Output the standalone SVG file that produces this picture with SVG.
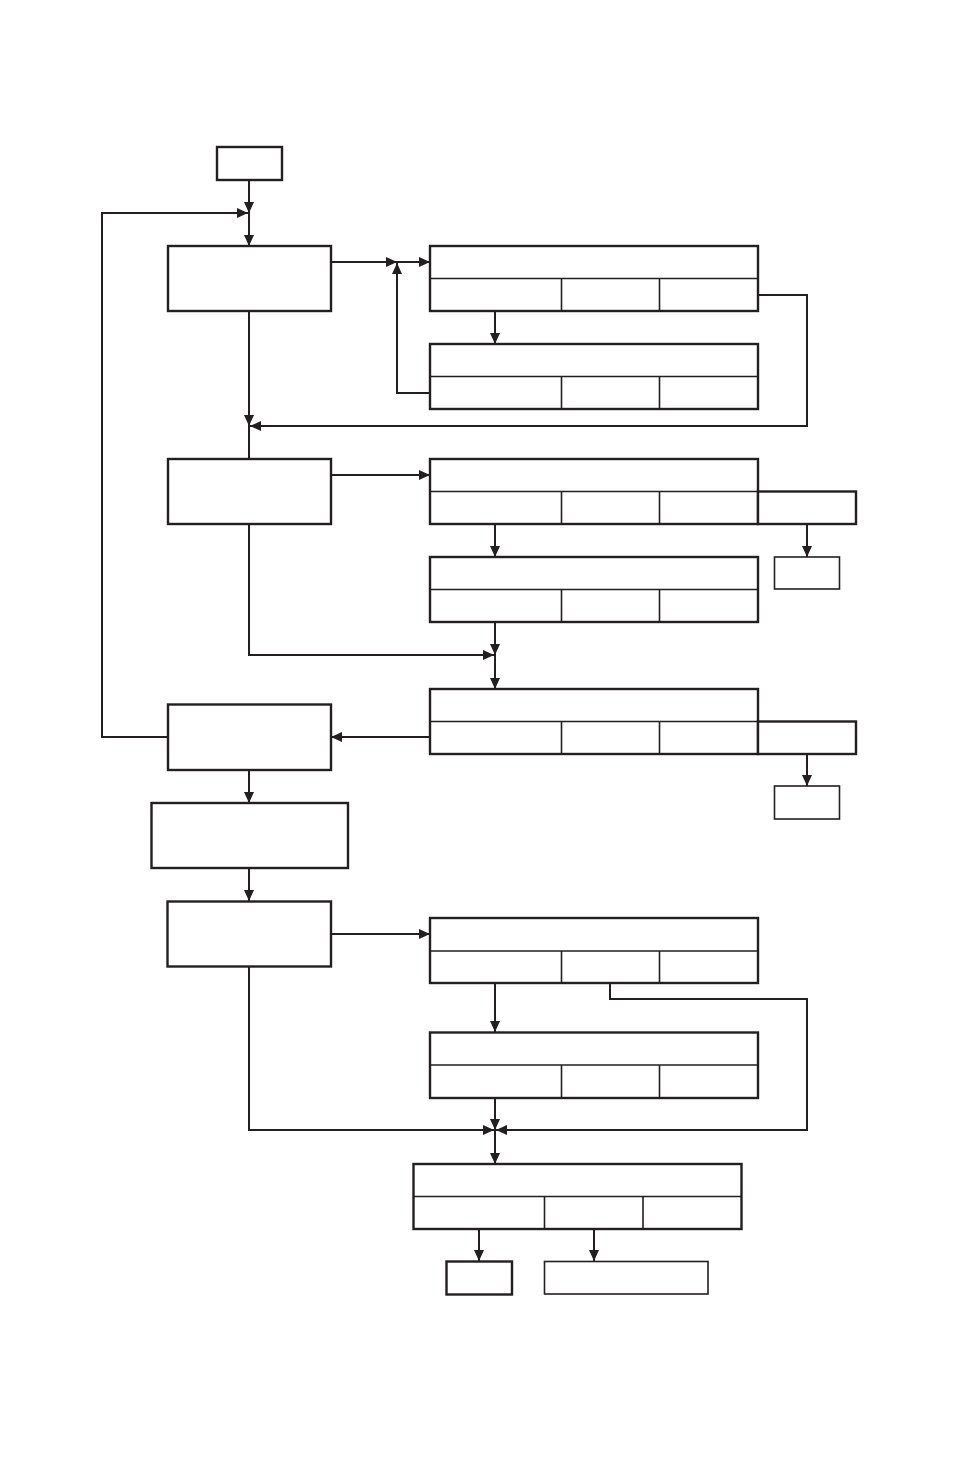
<svg xmlns="http://www.w3.org/2000/svg" width="954" height="1474" viewBox="0 0 954 1474">
<style>
.box{fill:#fff;stroke:#231f20;stroke-width:2.4}
.div{fill:none;stroke:#231f20;stroke-width:1.6}
.con{fill:none;stroke:#231f20;stroke-width:2}
.arr{marker-end:url(#ah)}
</style>
<defs>
<marker id="ah" markerUnits="userSpaceOnUse" markerWidth="12" markerHeight="11" refX="11" refY="5" orient="auto">
<path d="M0,0 L11,5 L0,10 z" fill="#231f20"/>
</marker>
</defs>
<rect width="954" height="1474" fill="#fff"/>
<g id="connectors">
<path class="con arr" d="M249,180 V213"/>
<path class="con arr" d="M249,213 V246"/>
<path class="con arr" d="M168,737 H102 V213 H248"/>
<path class="con arr" d="M331,262 H397"/>
<path class="con arr" d="M397,262 H430"/>
<path class="con arr" d="M430,393 H397 V263"/>
<path class="con arr" d="M495,311 V344"/>
<path class="con arr" d="M249,311 V426"/>
<path class="con" d="M249,426 V459"/>
<path class="con arr" d="M758,295 H807 V426 H250"/>
<path class="con arr" d="M331,475 H430"/>
<path class="con arr" d="M495,524 V557"/>
<path class="con arr" d="M807,524 V557"/>
<path class="con arr" d="M495,622 V655"/>
<path class="con arr" d="M495,655 V689"/>
<path class="con arr" d="M249,524 V655 H494"/>
<path class="con arr" d="M430,737 H331"/>
<path class="con arr" d="M807,754 V786"/>
<path class="con arr" d="M249,770 V803"/>
<path class="con arr" d="M249,868 V901"/>
<path class="con arr" d="M331,934 H430"/>
<path class="con arr" d="M495,983 V1032"/>
<path class="con arr" d="M495,1098 V1130"/>
<path class="con arr" d="M249,966 V1130 H494"/>
<path class="con arr" d="M610,983 V999 H807 V1130 H496"/>
<path class="con arr" d="M495,1130 V1164"/>
<path class="con arr" d="M479,1229 V1261"/>
<path class="con arr" d="M594,1229 V1261"/>
</g>
<g id="start"><rect class="box" x="217" y="147" width="65" height="33"/></g>
<g id="A1"><rect class="box" x="168" y="246" width="163" height="65"/></g>
<g id="T1"><rect class="box" x="430" y="246" width="328" height="65"/><path class="div" d="M430,278.5 H758 M561.5,278.5 V311 M659.5,278.5 V311"/></g>
<g id="T2"><rect class="box" x="430" y="344" width="328" height="65"/><path class="div" d="M430,376.5 H758 M561.5,376.5 V409 M659.5,376.5 V409"/></g>
<g id="A2"><rect class="box" x="168" y="459" width="163" height="65"/></g>
<g id="T3"><rect class="box" x="430" y="459" width="328" height="65"/><path class="div" d="M430,491.5 H758 M561.5,491.5 V524 M659.5,491.5 V524"/></g>
<g id="T3x"><rect class="box" x="758" y="491.5" width="98" height="32.5"/></g>
<g id="S1"><rect class="div" x="774.5" y="557" width="65" height="32"/></g>
<g id="T4"><rect class="box" x="430" y="557" width="328" height="65"/><path class="div" d="M430,589.5 H758 M561.5,589.5 V622 M659.5,589.5 V622"/></g>
<g id="T5"><rect class="box" x="430" y="689" width="328" height="65"/><path class="div" d="M430,721.5 H758 M561.5,721.5 V754 M659.5,721.5 V754"/></g>
<g id="T5x"><rect class="box" x="758" y="721.5" width="98" height="32.5"/></g>
<g id="S2"><rect class="div" x="774.5" y="786" width="65" height="33"/></g>
<g id="A3"><rect class="box" x="168" y="704.5" width="163" height="65.5"/></g>
<g id="B"><rect class="box" x="151.5" y="803" width="196.5" height="65"/></g>
<g id="A4"><rect class="box" x="167.5" y="901.5" width="163.5" height="65"/></g>
<g id="T6"><rect class="box" x="430" y="918" width="328" height="65"/><path class="div" d="M430,951 H758 M561.5,951 V983 M659.5,951 V983"/></g>
<g id="T7"><rect class="box" x="430" y="1032.5" width="328" height="65.5"/><path class="div" d="M430,1065 H758 M561.5,1065 V1098 M659.5,1065 V1098"/></g>
<g id="T8"><rect class="box" x="413.5" y="1164" width="328" height="65"/><path class="div" d="M413.5,1196.5 H741.5 M544.5,1196.5 V1229 M643,1196.5 V1229"/></g>
<g id="E1"><rect class="box" x="446.5" y="1261.5" width="65.5" height="33"/></g>
<g id="E2"><rect class="div" x="544.5" y="1261.5" width="163.5" height="32.5"/></g>
</svg>
